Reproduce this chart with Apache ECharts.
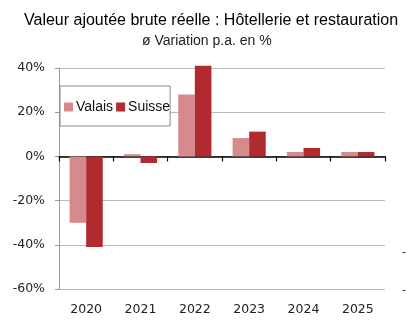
<!DOCTYPE html>
<html><head><meta charset="utf-8">
<script src="https://cdn.jsdelivr.net/npm/echarts@6/dist/echarts.min.js"></script>
<style>html,body{margin:0;padding:0;background:#fff}#c{width:407px;height:324px}</style>
</head><body><div id="c"></div>
<script>
const categories = ['2020','2021','2022','2023','2024','2025'];
const valais = [-30, 1, 28, 8.3, 2, 2];
const suisse = [-41, -3, 41, 11.2, 3.8, 2];
const yTicks = [-60, -40, -20, 0, 20, 40];

const font = 'Liberation Sans, Arial, sans-serif';
const axFont = 'DejaVu Sans, Verdana, sans-serif';
const chart = echarts.init(document.getElementById('c'), null, {renderer:'canvas'});
chart.setOption({
  animation:false,
  backgroundColor:'#fff',
  title:[{
    text:'Valeur ajoutée brute réelle : Hôtellerie et restauration',
    left:24, top:13, padding:0,
    textStyle:{fontFamily:font,fontSize:16,fontWeight:'normal',color:'#000'}
  },{
    text:'ø Variation p.a. en %',
    left:142, top:34, padding:0,
    textStyle:{fontFamily:font,fontSize:14,fontWeight:'normal',color:'#222'}
  }],
  legend:{
    left:60, top:86, orient:'horizontal',
    itemWidth:9, itemHeight:9, itemGap:3,
    padding:[14,0,12,4],
    borderColor:'#888', borderWidth:1, backgroundColor:'#fff',
    icon:'rect',
    textStyle:{fontFamily:font,fontSize:14,color:'#111',padding:[0,0,0,-2]},
    data:['Valais','Suisse']
  },
  grid:{left:59,right:22,top:68,bottom:35,containLabel:false},
  xAxis:[{
    type:'category', data:categories, boundaryGap:true,
    axisLine:{onZero:true,lineStyle:{color:'#000',width:1.5}},
    axisTick:{show:true,alignWithLabel:false,length:5,lineStyle:{color:'#000',width:1.2}},
    axisLabel:{show:false}
  },{
    type:'category', data:categories, position:'bottom',
    axisLine:{show:false}, axisTick:{show:false},
    axisLabel:{fontFamily:axFont,fontSize:12.5,color:'#222',margin:14}
  }],
  yAxis:{
    type:'value', min:yTicks[0], max:yTicks[yTicks.length-1], interval:20,
    axisLine:{show:true,lineStyle:{color:'#999'}},
    axisTick:{show:true,length:4,lineStyle:{color:'#999'}},
    splitLine:{lineStyle:{color:'#bbb'}},
    axisLabel:{fontFamily:axFont,fontSize:12.5,color:'#222',margin:14,formatter:v=>v+'%'}
  },
  series:[
    {name:'Valais',type:'bar',data:valais,barWidth:'30.5%',barGap:'0%',clip:false,itemStyle:{color:'#D68A8E'},xAxisIndex:0},
    {name:'Suisse',type:'bar',data:suisse,barWidth:'30.5%',barGap:'0%',clip:false,itemStyle:{color:'#B02A30'},xAxisIndex:0}
  ],
  graphic:[
    {type:'text',left:402,top:247,style:{text:'-',font:'12px '+font,fill:'#333'}},
    {type:'text',left:402,top:285,style:{text:'-',font:'12px '+font,fill:'#333'}}
  ]
});
</script></body></html>
